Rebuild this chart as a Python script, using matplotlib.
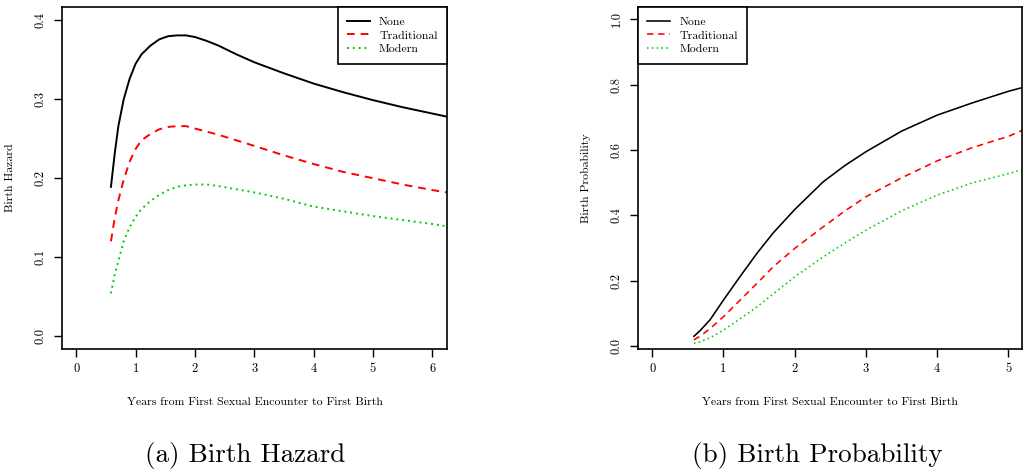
import matplotlib.pyplot as plt

plt.rcParams['font.family'] = ['cmr10', 'DejaVu Serif']
plt.rcParams['axes.formatter.use_mathtext'] = True

# --- data ---
series = ['None', 'Traditional', 'Modern']

hazard_x = [0.585, 0.65, 0.71, 0.80, 0.90, 1.0, 1.1, 1.25, 1.4, 1.55, 1.7, 1.85,
            2.0, 2.2, 2.4, 2.7, 3.0, 3.5, 4.0, 4.5, 5.0, 5.5, 6.0, 6.25]
hazard_none = [0.189, 0.232, 0.266, 0.300, 0.326, 0.345, 0.357, 0.368, 0.376, 0.380, 0.381, 0.381,
               0.379, 0.374, 0.368, 0.357, 0.347, 0.333, 0.320, 0.309, 0.299, 0.290, 0.282, 0.278]
hazard_trad = [0.120, 0.150, 0.172, 0.198, 0.221, 0.237, 0.248, 0.256, 0.262, 0.265, 0.266, 0.266,
               0.263, 0.259, 0.255, 0.248, 0.241, 0.229, 0.218, 0.208, 0.200, 0.192, 0.185, 0.182]
hazard_modern = [0.054, 0.078, 0.095, 0.120, 0.138, 0.151, 0.161, 0.171, 0.179, 0.185, 0.189, 0.191,
                 0.192, 0.192, 0.190, 0.186, 0.182, 0.174, 0.164, 0.158, 0.152, 0.147, 0.142, 0.139]

prob_x = [0.585, 0.67, 0.81, 1.0, 1.23, 1.47, 1.70, 2.0, 2.4, 2.7, 3.0, 3.5, 4.0, 4.5, 5.0, 5.19]
prob_none = [0.030, 0.047, 0.080, 0.141, 0.212, 0.284, 0.347, 0.418, 0.503, 0.552, 0.595,
             0.658, 0.707, 0.745, 0.780, 0.791]
prob_trad = [0.019, 0.030, 0.053, 0.090, 0.140, 0.192, 0.243, 0.299, 0.365, 0.413, 0.457,
             0.515, 0.567, 0.608, 0.642, 0.660]
prob_modern = [0.008, 0.013, 0.025, 0.049, 0.083, 0.120, 0.160, 0.212, 0.273, 0.315, 0.355,
               0.414, 0.462, 0.500, 0.528, 0.540]

hazard_xticks = [0, 1, 2, 3, 4, 5, 6]
hazard_yticks = [0.0, 0.1, 0.2, 0.3, 0.4]
prob_xticks = [0, 1, 2, 3, 4, 5]
prob_yticks = [0.0, 0.2, 0.4, 0.6, 0.8, 1.0]

xlabel = 'Years from First Sexual Encounter to First Birth'

styles = [dict(color='black', linestyle='-'),
          dict(color='red', linestyle=(0, (4, 3))),
          dict(color='#00CD00', linestyle=(0, (1, 2)))]

fig = plt.figure(figsize=(10.23, 4.69), dpi=100)
ax1 = fig.add_axes([62 / 1023, 120 / 469, 385 / 1023, 342 / 469])
ax2 = fig.add_axes([638 / 1023, 120 / 469, 384 / 1023, 342 / 469])


def style_axis(ax, xticks, yticks, ylabel):
    ax.set_xticks(xticks)
    ax.set_xticklabels([str(t) for t in xticks])
    ax.set_yticks(yticks)
    ax.set_yticklabels(['%.1f' % t for t in yticks], rotation=90, va='center')
    ax.tick_params(axis='both', direction='out', length=6, width=1, labelsize=9,
                   colors='black')
    ax.tick_params(axis='x', pad=4)
    ax.tick_params(axis='y', pad=5)
    for s in ax.spines.values():
        s.set_linewidth(1.2)
        s.set_color('black')
    ax.set_xlabel(xlabel, fontsize=8.5, labelpad=16)
    ax.set_ylabel(ylabel, fontsize=8.5, labelpad=14)


for ys, name, st in zip([hazard_none, hazard_trad, hazard_modern], series, styles):
    ax1.plot(hazard_x, ys, label=name, linewidth=1.4, **st)
ax1.set_xlim(-0.24, 6.25)
ax1.set_ylim(-0.0165, 0.417)
style_axis(ax1, hazard_xticks, hazard_yticks, 'Birth Hazard')

for ys, name, st in zip([prob_none, prob_trad, prob_modern], series, styles):
    ax2.plot(prob_x, ys, label=name, linewidth=1.15, **st)
ax2.set_xlim(-0.2, 5.19)
ax2.set_ylim(-0.009, 1.038)
style_axis(ax2, prob_xticks, prob_yticks, 'Birth Probability')

for ax, loc in [(ax1, 'upper right'), (ax2, 'upper left')]:
    leg = ax.legend(loc=loc, borderaxespad=0, fontsize=8.5, fancybox=False,
                    framealpha=1, edgecolor='black', handlelength=1.9,
                    handletextpad=0.8, labelspacing=0.3, borderpad=0.8)
    leg.get_frame().set_linewidth(1.2)

fig.text(245 / 1023, 1 - 455 / 469, '(a) Birth Hazard', ha='center', va='center', fontsize=19.5)
fig.text(817 / 1023, 1 - 455 / 469, '(b) Birth Probability', ha='center', va='center', fontsize=19.5)

fig.savefig('out.png', dpi=100)
